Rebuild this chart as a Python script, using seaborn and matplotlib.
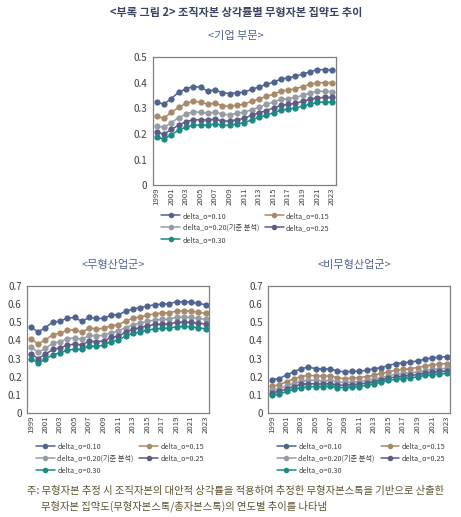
import pandas as pd
import matplotlib
matplotlib.use("Agg")
import matplotlib.pyplot as plt
from matplotlib.lines import Line2D
from matplotlib.ticker import FuncFormatter
import seaborn as sns

sns.set_style("white")
plt.rcParams["font.family"] = ["Noto Sans CJK KR", "DejaVu Sans"]

years = list(range(1999, 2024))
series_names = ["delta_o=0.10", "delta_o=0.15", "delta_o=0.20(기준 분석)",
                "delta_o=0.25", "delta_o=0.30"]
colors = ["#50648f", "#a8896a", "#979ca4", "#5e5b86", "#1c8a82"]

# <기업 부문>
corp_010 = [0.324, 0.317, 0.339, 0.363, 0.377, 0.386, 0.383, 0.368, 0.373, 0.362, 0.358, 0.362, 0.364,
            0.375, 0.384, 0.394, 0.403, 0.415, 0.420, 0.426, 0.435, 0.444, 0.452, 0.452, 0.450]
corp_015 = [0.269, 0.262, 0.285, 0.304, 0.320, 0.328, 0.325, 0.316, 0.321, 0.311, 0.308, 0.313, 0.317,
            0.328, 0.337, 0.347, 0.356, 0.368, 0.372, 0.377, 0.386, 0.394, 0.401, 0.401, 0.401]
corp_020 = [0.232, 0.226, 0.245, 0.264, 0.278, 0.287, 0.285, 0.281, 0.286, 0.277, 0.275, 0.281, 0.286,
            0.295, 0.305, 0.316, 0.325, 0.336, 0.339, 0.343, 0.352, 0.360, 0.367, 0.367, 0.366]
corp_025 = [0.206, 0.200, 0.218, 0.235, 0.248, 0.256, 0.255, 0.255, 0.258, 0.251, 0.251, 0.256, 0.261,
            0.274, 0.283, 0.292, 0.302, 0.312, 0.316, 0.320, 0.328, 0.336, 0.342, 0.343, 0.343]
corp_030 = [0.187, 0.181, 0.197, 0.215, 0.227, 0.235, 0.235, 0.235, 0.240, 0.234, 0.234, 0.240, 0.244,
            0.256, 0.265, 0.274, 0.283, 0.294, 0.298, 0.302, 0.309, 0.317, 0.324, 0.325, 0.325]

# <무형산업군>
intan_010 = [0.474, 0.448, 0.472, 0.502, 0.507, 0.524, 0.528, 0.506, 0.528, 0.522, 0.522, 0.541, 0.543,
             0.561, 0.574, 0.583, 0.591, 0.598, 0.602, 0.604, 0.615, 0.615, 0.613, 0.606, 0.598]
intan_015 = [0.407, 0.381, 0.404, 0.431, 0.441, 0.456, 0.459, 0.446, 0.469, 0.465, 0.467, 0.483, 0.487,
             0.507, 0.524, 0.531, 0.541, 0.548, 0.552, 0.554, 0.563, 0.565, 0.563, 0.557, 0.550]
intan_020 = [0.363, 0.335, 0.357, 0.385, 0.394, 0.409, 0.415, 0.406, 0.428, 0.426, 0.428, 0.444, 0.452,
             0.472, 0.487, 0.496, 0.506, 0.513, 0.517, 0.519, 0.528, 0.530, 0.528, 0.522, 0.517]
intan_025 = [0.326, 0.300, 0.324, 0.350, 0.359, 0.374, 0.380, 0.376, 0.396, 0.393, 0.398, 0.417, 0.424,
             0.446, 0.461, 0.472, 0.481, 0.489, 0.491, 0.493, 0.500, 0.502, 0.500, 0.496, 0.491]
intan_030 = [0.300, 0.274, 0.296, 0.322, 0.331, 0.346, 0.352, 0.350, 0.370, 0.367, 0.374, 0.394, 0.402,
             0.424, 0.439, 0.448, 0.457, 0.465, 0.467, 0.469, 0.476, 0.478, 0.476, 0.470, 0.465]

# <비무형산업군>
nonint_010 = [0.183, 0.189, 0.209, 0.226, 0.244, 0.252, 0.244, 0.241, 0.243, 0.230, 0.226, 0.228, 0.230,
              0.235, 0.243, 0.250, 0.261, 0.272, 0.276, 0.280, 0.287, 0.296, 0.304, 0.307, 0.311]
nonint_015 = [0.146, 0.154, 0.172, 0.187, 0.200, 0.207, 0.204, 0.202, 0.204, 0.193, 0.189, 0.191, 0.194,
              0.200, 0.207, 0.217, 0.226, 0.235, 0.239, 0.244, 0.250, 0.259, 0.265, 0.269, 0.272]
nonint_020 = [0.126, 0.131, 0.148, 0.161, 0.174, 0.180, 0.178, 0.176, 0.178, 0.169, 0.167, 0.169, 0.172,
              0.178, 0.185, 0.194, 0.204, 0.213, 0.217, 0.220, 0.226, 0.233, 0.239, 0.243, 0.246]
nonint_025 = [0.111, 0.117, 0.131, 0.144, 0.156, 0.161, 0.159, 0.159, 0.161, 0.152, 0.152, 0.154, 0.157,
              0.165, 0.172, 0.181, 0.191, 0.198, 0.202, 0.206, 0.211, 0.219, 0.224, 0.228, 0.231]
nonint_030 = [0.096, 0.102, 0.117, 0.128, 0.139, 0.144, 0.144, 0.144, 0.146, 0.139, 0.139, 0.141, 0.144,
              0.152, 0.159, 0.169, 0.178, 0.185, 0.189, 0.193, 0.198, 0.206, 0.211, 0.215, 0.217]

panels = [
    ("<기업 부문>", [corp_010, corp_015, corp_020, corp_025, corp_030], [0.332, 0.642, 0.396, 0.247], 0.5),
    ("<무형산업군>", [intan_010, intan_015, intan_020, intan_025, intan_030], [0.059, 0.202, 0.395, 0.244], 0.7),
    ("<비무형산업군>", [nonint_010, nonint_015, nonint_020, nonint_025, nonint_030], [0.582, 0.202, 0.395, 0.244], 0.7),
]

fig = plt.figure(figsize=(4.61, 5.17), dpi=100)

fig.text(0.512, 0.975, "<부록 그림 2> 조직자본 상각률별 무형자본 집약도 추이", ha="center", va="center",
         fontsize=8, fontweight="bold", color="#3a4560")

title_y = [0.931, 0.487, 0.487]
title_x = [0.512, 0.245, 0.770]
legend_pos = [(0.350, 0.590), (0.078, 0.144), (0.601, 0.144)]

for i, (name, vals, rect, ymax) in enumerate(panels):
    ax = fig.add_axes(rect)
    rows = []
    for s, v in zip(series_names, vals):
        for y, val in zip(years, v):
            rows.append({"year": y, "value": val, "series": s})
    df = pd.DataFrame(rows)
    sns.lineplot(data=df, x="year", y="value", hue="series", hue_order=series_names,
                 palette=colors, marker="o", markersize=4.5, markeredgewidth=0,
                 linewidth=1.1, legend=False, ax=ax)
    ax.set_xlim(1998.5, 2023.5)
    ax.set_ylim(0, ymax)
    ax.set_xticks(years[::2])
    ax.set_xticklabels([str(y) for y in years[::2]], rotation=90, fontsize=5.6, color="#404040")
    ax.set_yticks([k / 10 for k in range(int(round(ymax * 10)) + 1)])
    ax.yaxis.set_major_formatter(FuncFormatter(lambda v, p: "0" if abs(v) < 1e-9 else f"{v:.1f}"))
    ax.tick_params(axis="y", labelsize=7, colors="#404040", length=0, pad=4)
    ax.tick_params(axis="x", length=0, pad=2)
    ax.set_xlabel("")
    ax.set_ylabel("")
    for sp in ax.spines.values():
        sp.set_color("#808080")
        sp.set_linewidth(0.9)
    fig.text(title_x[i], title_y[i], name, ha="center", va="center", fontsize=8, color="#52638f")

    handles = [Line2D([], [], color=c, marker="o", markersize=4, markeredgewidth=0, linewidth=1.1)
               for c in colors]
    order = [0, 2, 4, 1, 3]
    fig.legend([handles[k] for k in order], [series_names[k] for k in order],
               loc="upper left", bbox_to_anchor=legend_pos[i], bbox_transform=fig.transFigure,
               ncol=2, frameon=False, fontsize=5.2, borderpad=0, borderaxespad=0,
               handlelength=2.6, handletextpad=0.35, columnspacing=0.8, labelspacing=0.55,
               labelcolor="#404040")

fig.text(0.058, 0.051, "주: 무형자본 추정 시 조직자본의 대안적 상각률을 적용하여 추정한 무형자본스톡을 기반으로 산출한",
         ha="left", va="center", fontsize=7.4, color="#5e5230")
fig.text(0.089, 0.021, "무형자본 집약도(무형자본스톡/총자본스톡)의 연도별 추이를 나타냄",
         ha="left", va="center", fontsize=7.4, color="#5e5230")

fig.savefig("out.png", dpi=100)
